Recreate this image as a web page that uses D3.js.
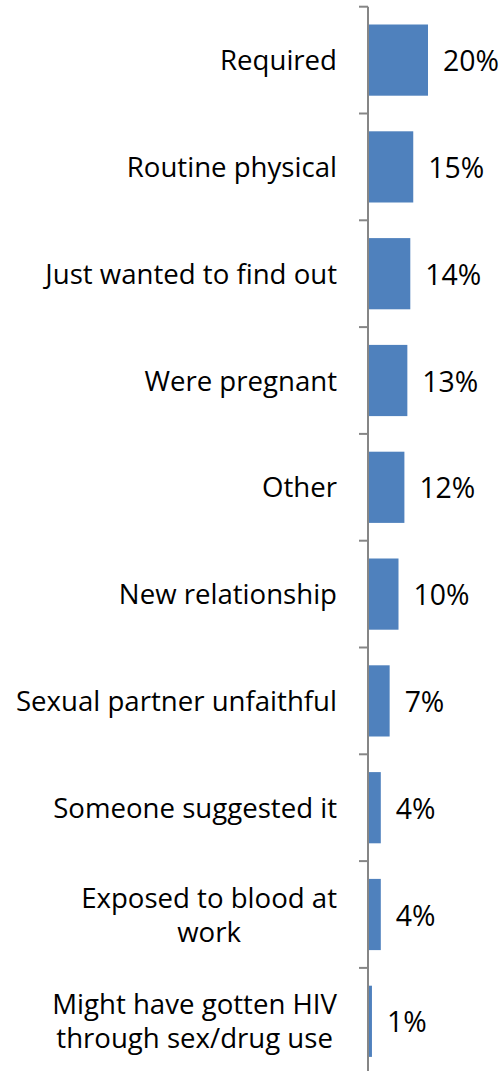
<!DOCTYPE html>
<html>
<head>
<meta charset="utf-8">
<script src="https://cdn.jsdelivr.net/npm/d3@7"></script>
<style>
  html, body { margin: 0; padding: 0; background: #fff; }
  svg { display: block; }
  text { font-family: "Open Sans", sans-serif; fill: #000; }
</style>
</head>
<body>
<svg id="chart" width="503" height="1071"></svg>
<script>
// Reasons for getting an HIV test (share of respondents)
const categories = [
  ["Required"],
  ["Routine physical"],
  ["Just wanted to find out"],
  ["Were pregnant"],
  ["Other"],
  ["New relationship"],
  ["Sexual partner unfaithful"],
  ["Someone suggested it"],
  ["Exposed to blood at", "work"],
  ["Might have gotten HIV", "through sex/drug use"]
];
const values = [20, 15, 14, 13, 12, 10, 7, 4, 4, 1];
const valueLabels = ["20%", "15%", "14%", "13%", "12%", "10%", "7%", "4%", "4%", "1%"];

const W = 503, H = 1071;
const axisX = 368;
const plotTop = 6.7, step = 106.8;
const catFont = 27.6;
const valFont = 28.4;
const lineH = 34;

const svg = d3.select("#chart");

const idx = d3.range(categories.length);
const y = d3.scaleBand()
  .domain(idx)
  .range([plotTop, plotTop + step * categories.length])
  .paddingInner(1 / 3)
  .paddingOuter(1 / 6);

const x = d3.scaleLinear().domain([0, 20]).range([axisX + 1, axisX + 60]);

// Bars
svg.append("g").selectAll("rect")
  .data(idx)
  .join("rect")
  .attr("x", x(0))
  .attr("y", i => y(i))
  .attr("width", i => x(values[i]) - x(0))
  .attr("height", y.bandwidth())
  .attr("fill", "#4F81BD");

// Category axis line with tick marks at band boundaries
const axisG = svg.append("g");
axisG.append("line")
  .attr("x1", axisX).attr("x2", axisX)
  .attr("y1", plotTop).attr("y2", H + 5)
  .attr("stroke", "#868686").attr("stroke-width", 2);
axisG.selectAll("line.tick")
  .data(d3.range(categories.length + 1))
  .join("line")
  .attr("class", "tick")
  .attr("x1", axisX - 9).attr("x2", axisX)
  .attr("y1", i => plotTop + i * step).attr("y2", i => plotTop + i * step)
  .attr("stroke", "#868686").attr("stroke-width", 2);

// Category labels: block right-aligned to the axis, lines centred within it
const labelRight = 337;
const labels = svg.append("g");
idx.forEach(i => {
  const lines = categories[i];
  const cy = y(i) + y.bandwidth() / 2;
  const t = labels.append("text")
    .attr("font-size", catFont)
    .attr("text-anchor", "middle")
    .attr("dominant-baseline", "central");
  const spans = t.selectAll("tspan")
    .data(lines)
    .join("tspan")
    .attr("dominant-baseline", "central")
    .attr("y", (d, k) => cy - 1 + (k - (lines.length - 1) / 2) * lineH)
    .text(d => d);
  const maxW = d3.max(spans.nodes(), n => n.getComputedTextLength());
  spans.attr("x", labelRight - maxW / 2);
});

// Value labels
svg.append("g").selectAll("text")
  .data(idx)
  .join("text")
  .attr("font-size", valFont)
  .attr("x", i => x(values[i]) + 15)
  .attr("y", i => y(i) + y.bandwidth() / 2)
  .attr("dominant-baseline", "central")
  .text(i => valueLabels[i]);
</script>
</body>
</html>
